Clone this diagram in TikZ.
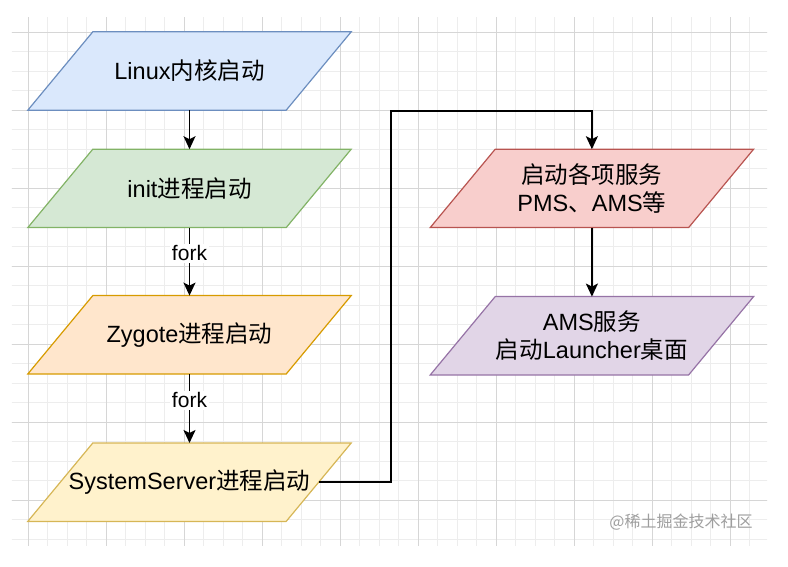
\documentclass[tikz,border=0pt]{standalone}
\usepackage{fontspec}
\setmainfont{Liberation Sans}
\newfontfamily\cjk{Noto Sans CJK SC}
\newcommand{\zh}[1]{{\cjk #1}}
\usepackage{xcolor}
\usetikzlibrary{arrows.meta,positioning}

\definecolor{bluefill}{HTML}{DAE8FC}\definecolor{blueline}{HTML}{6C8EBF}
\definecolor{greenfill}{HTML}{D5E8D4}\definecolor{greenline}{HTML}{82B366}
\definecolor{orangefill}{HTML}{FFE6CC}\definecolor{orangeline}{HTML}{D79B00}
\definecolor{yellowfill}{HTML}{FFF2CC}\definecolor{yellowline}{HTML}{D6B656}
\definecolor{redfill}{HTML}{F8CECC}\definecolor{redline}{HTML}{B85450}
\definecolor{purplefill}{HTML}{E1D5E7}\definecolor{purpleline}{HTML}{9673A6}

\pgfdeclarelayer{gridlayer}
\pgfdeclarelayer{background}
\pgfsetlayers{gridlayer,background,main}

\begin{document}
\begin{tikzpicture}[
  stagebox/.style={minimum width=258pt, minimum height=78pt, inner sep=0pt,
    align=center, font=\fontsize{23.5}{28}\selectfont},
  slant/.style={line width=1.2pt, line join=miter},
  flow/.style={-{Stealth[length=13pt,width=12pt,inset=3pt]}, line width=1.8pt},
  forklabel/.style={fill=white, inner sep=2pt, font=\fontsize{21}{25}\selectfont},
  wmark/.style={text=black!38, font=\cjk\fontsize{16}{19}\selectfont},
  minorgrid/.style={draw=black!7, line width=0.8pt},
  majorgrid/.style={draw=black!16, line width=0.8pt}
]
\useasboundingbox (-189.5pt,71pt) rectangle (598.5pt,-496pt);

% grid
\begin{pgfonlayer}{gridlayer}
\begin{scope}[shift={(-161.5pt,39pt)}]
  \clip (-16pt,14pt) rectangle (739pt,-513pt);
  \draw[minorgrid, step=19.5pt] (-39pt,-546pt) grid (780pt,39pt);
  \draw[majorgrid, step=78pt] (-78pt,-546pt) grid (780pt,78pt);
\end{scope}
\end{pgfonlayer}

\node[stagebox] (linux) {Linux\zh{内核启动}};
\node[stagebox, below=39pt of linux] (init) {init\zh{进程启动}};
\node[stagebox, below=68pt of init] (zygote) {Zygote\zh{进程启动}};
\node[stagebox, below=69pt of zygote] (sysserver) {SystemServer\zh{进程启动}};

\node[stagebox, right=144pt of init] (services) {\zh{启动各项服务}\\PMS\zh{、}AMS\zh{等}};
\node[stagebox, below=69pt of services] (launcher) {AMS\zh{服务}\\\zh{启动}Launcher\zh{桌面}};

% parallelograms behind the texts
\begin{pgfonlayer}{background}
\foreach \n/\c in {linux/blue, init/green, zygote/orange, sysserver/yellow, services/red, launcher/purple}
  \draw[slant, fill=\c fill, draw=\c line]
    ([xshift=-32.5pt]\n.south west) -- ([xshift=-32.5pt]\n.south east)
    -- ([xshift=32.5pt]\n.north east) -- ([xshift=32.5pt]\n.north west) -- cycle;
\end{pgfonlayer}

\coordinate[above=38pt of services.north] (turn);

\draw[flow] (linux) -- (init);
\draw[flow] (init) -- node[forklabel, pos=0.38] {fork} (zygote);
\draw[flow] (zygote) -- node[forklabel, pos=0.38] {fork} (sysserver);
\draw[flow] (sysserver.east) -- ++(72pt,0) |- (turn) -- (services.north);
\draw[flow] (services) -- (launcher);

\node[wmark] (wm) at (491.5pt,-451pt) {@稀土掘金技术社区};
\end{tikzpicture}
\end{document}
